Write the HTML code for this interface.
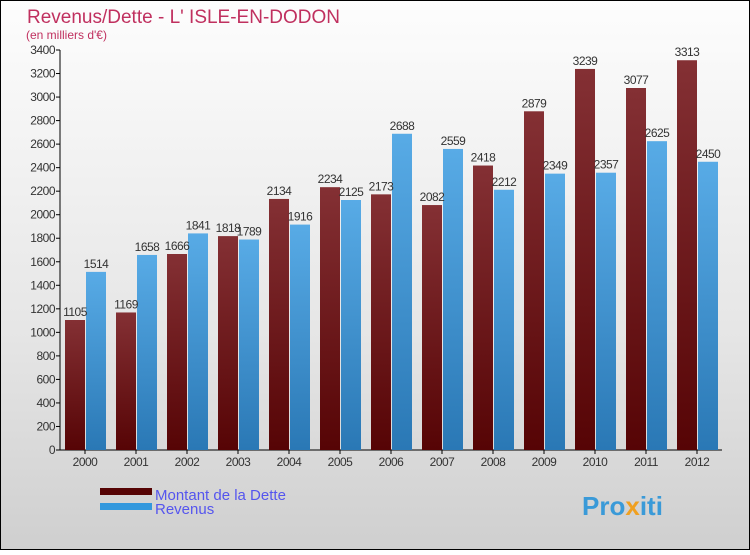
<!DOCTYPE html>
<html><head><meta charset="utf-8"><style>
body{margin:0;width:750px;height:550px;overflow:hidden;font-family:"Liberation Sans",sans-serif}
</style></head><body>
<svg width="750" height="550" xmlns="http://www.w3.org/2000/svg">
<defs>
<linearGradient id="bg" x1="0" y1="0" x2="0" y2="1"><stop offset="0" stop-color="#fdfdfd"/><stop offset="0.6" stop-color="#e6e6e6"/><stop offset="1" stop-color="#cfcfcf"/></linearGradient>
<linearGradient id="gd" x1="0" y1="0" x2="0" y2="1"><stop offset="0" stop-color="#843034"/><stop offset="1" stop-color="#560405"/></linearGradient>
<linearGradient id="gr" x1="0" y1="0" x2="0" y2="1"><stop offset="0" stop-color="#58abe6"/><stop offset="1" stop-color="#2a78b5"/></linearGradient>
</defs>
<rect x="0.5" y="0.5" width="749" height="549" fill="url(#bg)" stroke="#000"/>
<text x="27" y="23" font-size="19" fill="#c0305f">Revenus/Dette - L' ISLE-EN-DODON</text>
<text x="26" y="39" font-size="12" fill="#c0305f">(en milliers d'€)</text>
<g id="axes"></g>
<g id="bars"></g>
<rect x="100" y="488" width="52" height="7" fill="#560405"/>
<rect x="100" y="503" width="52" height="7" fill="#3398dd"/>
<text x="155" y="500" font-size="15" fill="#5555ee">Montant de la Dette</text>
<text x="155" y="514" font-size="15" fill="#5555ee">Revenus</text>
<text x="582" y="515" font-size="26" font-weight="bold" fill="#3a9ad8">Pro<tspan fill="#f0a020">x</tspan>iti</text>
</svg>
<script>
const years=["2000","2001","2002","2003","2004","2005","2006","2007","2008","2009","2010","2011","2012"];
const dette=[1105,1169,1666,1818,2134,2234,2173,2082,2418,2879,3239,3077,3313];
const revenus=[1514,1658,1841,1789,1916,2125,2688,2559,2212,2349,2357,2625,2450];
const yTicks=[0,200,400,600,800,1000,1200,1400,1600,1800,2000,2200,2400,2600,2800,3000,3200,3400];
const NS="http://www.w3.org/2000/svg";
const y0=450,yMax=3400,ph=400;
const yS=v=>y0-v/yMax*ph;
const xC=i=>85+i*51;
function mk(t,a,p){const e=document.createElementNS(NS,t);for(const k in a)e.setAttribute(k,a[k]);p.appendChild(e);return e;}
const ax=document.getElementById('axes'),bg=document.getElementById('bars');
const yl=mk('line',{x1:60,y1:50,x2:60,y2:450,stroke:'#000'},ax);


const xl=mk('line',{x1:60,y1:450,x2:722,y2:450,stroke:'#000'},ax);


yTicks.forEach(v=>{
 mk('line',{x1:56,y1:yS(v),x2:60,y2:yS(v),stroke:'#000'},ax);
 const t=mk('text',{x:55,y:yS(v)+4,'font-size':12,fill:'#333','text-anchor':'end','letter-spacing':'-0.5'},ax);
 t.textContent=v;
 
 
});
years.forEach((yr,i)=>{
 const c=xC(i);
 mk('line',{x1:c,y1:450,x2:c,y2:454,stroke:'#000'},ax);
 const t=mk('text',{x:c,y:466,'font-size':12,fill:'#333','text-anchor':'middle','letter-spacing':'-0.5'},ax);
 t.textContent=yr;
 
 
 const d=mk('rect',{x:c-20,y:yS(dette[i]),width:20,height:y0-yS(dette[i]),fill:'url(#gd)'},bg);
 
 
 const r=mk('rect',{x:c+1,y:yS(revenus[i]),width:20,height:y0-yS(revenus[i]),fill:'url(#gr)'},bg);
 
 
 const dl=mk('text',{x:c-10,y:yS(dette[i])-4,'font-size':12,fill:'#333','text-anchor':'middle','letter-spacing':'-0.5'},bg);
 dl.textContent=dette[i];
 
 
 const rl=mk('text',{x:c+11,y:yS(revenus[i])-4,'font-size':12,fill:'#333','text-anchor':'middle','letter-spacing':'-0.5'},bg);
 rl.textContent=revenus[i];
 
 
});
</script>
</body></html>
